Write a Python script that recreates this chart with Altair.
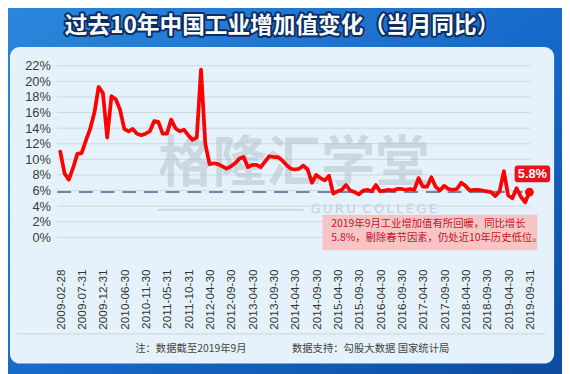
import json
import altair as alt
import pandas as pd

# ---------------- data ----------------
TITLE = "过去10年中国工业增加值变化（当月同比）"

values = [
    11.0, 8.2, 7.4, 8.9, 10.7, 10.8, 12.4, 13.9, 16.0, 19.3,
    18.5, 12.8, 18.1, 17.7, 16.4, 13.9, 13.6, 13.9, 13.3, 13.1,
    13.3, 13.6, 14.9, 14.8, 13.3, 13.3, 15.1, 14.0, 13.6, 13.8,
    13.1, 12.5, 12.8, 21.5, 12.0, 9.4, 9.5, 9.4, 9.1, 8.8,
    9.1, 9.5, 10.1, 10.3, 9.0, 9.3, 9.3, 9.0, 9.7, 10.4,
    10.3, 10.3, 9.9, 9.3, 8.8, 8.7, 8.8, 9.2, 8.7, 7.0,
    8.0, 7.6, 7.3, 7.9, 5.6, 5.9, 6.1, 6.7, 6.0, 5.8,
    5.5, 6.0, 6.1, 5.9, 6.7, 5.9, 6.0, 6.1, 6.0, 6.2,
    6.2, 6.1, 6.2, 6.1, 7.6, 6.5, 6.5, 7.7, 6.5, 6.0,
    6.6, 6.2, 6.1, 6.2, 7.0, 6.6, 6.0, 6.1, 6.1, 6.0,
    5.9, 5.8, 5.3, 5.9, 8.5, 5.4, 5.0, 6.3, 5.2, 4.5,
    5.8,
]

tick_labels = [
    "2009-02-28", "2009-07-31", "2009-12-31", "2010-06-30", "2010-11-30",
    "2011-05-31", "2011-10-31", "2012-04-30", "2012-09-30", "2013-04-30",
    "2013-09-30", "2014-04-30", "2014-09-30", "2015-04-30", "2015-09-30",
    "2016-04-30", "2016-09-30", "2017-04-30", "2017-09-30", "2018-04-30",
    "2018-09-30", "2019-04-30", "2019-09-31",
]
TICK_EVERY = 5
y_ticks = list(range(0, 23, 2))

note_lines = [
    "2019年9月工业增加值有所回暖，同比增长",
    "5.8%，剔除春节因素，仍处近10年历史低位。",
]
footer_left = "注：数据截至2019年9月"
footer_right = "数据支持：勾股大数据  国家统计局"
watermark = "格隆汇学堂"
watermark_en = "G\u2009U\u2009R\u2009U\u2009 C\u2009O\u2009L\u2009L\u2009E\u2009G\u2009E"

# ---------------- frames ----------------
df = pd.DataFrame({"i": list(range(len(values))), "v": values})
last = df.iloc[[-1]].copy()
one = pd.DataFrame({"k": [0]})
grid_df = pd.DataFrame({"v": y_ticks})

W, H = 482, 174
CJK = "Noto Sans CJK SC"
LAT = "Liberation Sans"

x_scale = alt.Scale(domain=[-0.7, len(values) - 1 + 0.7], nice=False, zero=False)
y_scale = alt.Scale(domain=[0, 22], nice=False)

label_expr = json.dumps(tick_labels) + f"[round(datum.value / {TICK_EVERY})]"

x_axis = alt.Axis(
    values=list(range(0, len(values), TICK_EVERY)),
    labelExpr=label_expr,
    labelAngle=270,
    labelPadding=32,
    labelFontSize=12,
    labelFont=LAT,
    labelColor="#333333",
    labelFlush=False,
    labelOverlap=False,
    domain=False,
    ticks=False,
    grid=False,
    title=None,
    zindex=1,
)
y_axis = alt.Axis(
    values=y_ticks,
    labelExpr="datum.value + '%'",
    labelFontSize=13,
    labelFont=LAT,
    labelColor="#3a3a3a",
    labelPadding=7,
    domain=False,
    ticks=False,
    grid=False,
    title=None,
    zindex=1,
)
x_enc = alt.X("i:Q", scale=x_scale, axis=x_axis)
y_enc = alt.Y("v:Q", scale=y_scale, axis=y_axis)

# ---------------- decoration ----------------
bg = alt.Chart(one).mark_rect(
    fill=alt.LinearGradient(
        gradient="linear",
        stops=[
            alt.GradientStop(color="#2b88dd", offset=0),
            alt.GradientStop(color="#1668c8", offset=0.55),
            alt.GradientStop(color="#0c4a9e", offset=1),
        ],
        x1=0, y1=0, x2=1, y2=1,
    )
).encode(x=alt.value(-60), x2=alt.value(520), y=alt.value(-70), y2=alt.value(320))

panel = alt.Chart(one).mark_rect(fill="#e5f2fb", cornerRadius=10).encode(
    x=alt.value(-48), x2=alt.value(504), y=alt.value(-19), y2=alt.value(302)
)

title_shadow = alt.Chart(one).mark_text(
    text=TITLE, font=CJK, fontSize=23, fontWeight="bold", align="center",
    baseline="middle", fill="#0b2d63", stroke="#0b2d63", strokeWidth=4,
    strokeJoin="round",
).encode(x=alt.value(228), y=alt.value(-40.5))
title_text = alt.Chart(one).mark_text(
    text=TITLE, font=CJK, fontSize=23, fontWeight="bold", align="center",
    baseline="middle", fill="#ffffff",
).encode(x=alt.value(228), y=alt.value(-40.5))

sep = alt.Chart(one).mark_rule(color="#c9d3db", strokeWidth=1).encode(
    x=alt.value(-41), x2=alt.value(495), y=alt.value(272)
)
foot1 = alt.Chart(one).mark_text(
    text=footer_left, font=CJK, fontSize=10.5, color="#444444", align="left",
    baseline="middle",
).encode(x=alt.value(79), y=alt.value(287))
foot2 = alt.Chart(one).mark_text(
    text=footer_right, font=CJK, fontSize=10.5, color="#444444", align="left",
    baseline="middle",
).encode(x=alt.value(238), y=alt.value(287))

grid = alt.Chart(grid_df).mark_rule(color="#cdd6de", strokeWidth=1).encode(
    y=y_enc, x=alt.value(0), x2=alt.value(480)
)

wm = alt.Chart(one).mark_text(
    text=watermark, font=CJK, fontSize=55, fontWeight="bold", align="center",
    baseline="middle", fill="#a9b6c2", opacity=0.42,
).encode(x=alt.value(240), y=alt.value(100))
wm_line = alt.Chart(one).mark_rule(color="#c6cfd8", strokeWidth=1.5).encode(
    x=alt.value(102), x2=alt.value(250), y=alt.value(146)
)
wm_en = alt.Chart(one).mark_text(
    text=watermark_en, font="DejaVu Sans", fontSize=13, align="left",
    baseline="middle", fill="#c6cfd8",
).encode(x=alt.value(257), y=alt.value(145))

note_box = alt.Chart(one).mark_rect(fill="#f8c5c7").encode(
    x=alt.value(269), x2=alt.value(487), y=alt.value(151), y2=alt.value(187)
)
note1 = alt.Chart(one).mark_text(
    text=note_lines[0], font=CJK, fontSize=10.5, color="#c4161c", align="left",
    baseline="middle",
).encode(x=alt.value(278), y=alt.value(160.5))
note2 = alt.Chart(one).mark_text(
    text=note_lines[1], font=CJK, fontSize=10.5, color="#c4161c", align="left",
    baseline="middle",
).encode(x=alt.value(278), y=alt.value(174.5))

# ---------------- data marks ----------------
dashed = alt.Chart(last).mark_rule(
    color="#4f5f9c", strokeWidth=1.5, strokeDash=[14, 8]
).encode(y=y_enc, x=alt.value(0), x2=alt.value(472))

line = alt.Chart(df).mark_line(
    color="#ff0000", strokeWidth=3.8, strokeJoin="round", strokeCap="round"
).encode(x=x_enc, y=y_enc)

dot = alt.Chart(last).mark_circle(color="#ff0000", size=80, opacity=1).encode(
    x=x_enc, y=y_enc
)

box_path = (
    "M-0.83,-0.472 L0.83,-0.472 Q1,-0.472 1,-0.305 L1,0.305 Q1,0.472 0.83,0.472 "
    "L-0.83,0.472 Q-1,0.472 -1,0.305 L-1,-0.305 Q-1,-0.472 -0.83,-0.472 Z"
)
label_box = alt.Chart(last).mark_point(
    shape=box_path, size=1296, filled=True, color="#e8121c", opacity=1,
    xOffset=3, yOffset=-18.5,
).encode(x=x_enc, y=y_enc)
label_text = alt.Chart(last).transform_calculate(
    lab="format(datum.v, '.1f') + '%'"
).mark_text(
    font=LAT, fontSize=13, fontWeight="bold", color="#ffffff", dx=3, dy=-18.5,
    align="center", baseline="middle",
).encode(x=x_enc, y=y_enc, text="lab:N")

chart = alt.layer(
    bg, panel, title_shadow, title_text, sep, foot1, foot2, grid, wm, wm_line,
    wm_en, note_box, note1, note2, dashed, line, dot, label_box, label_text,
).properties(
    width=W,
    height=H,
    padding={"left": 50, "top": 56, "right": 30, "bottom": 136},
    autosize=alt.AutoSizeParams(type="none"),
    background="#1a6fcf",
).configure_view(strokeWidth=0)

chart.save("out.html", embed_options={"renderer": "svg", "actions": False})
